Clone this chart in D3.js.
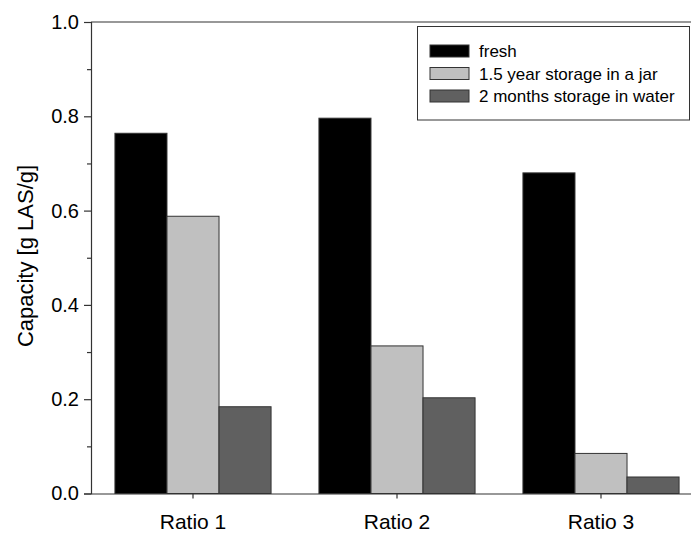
<!DOCTYPE html>
<html lang="en">
<head>
    <meta charset="utf-8">
    <title></title>
    <script src="https://d3js.org/d3.v7.min.js"></script>
    <style type="text/css">
        body{
            margin: 0;
            background: #fff;
        }
        svg{
            font-family: "Liberation Sans", Arial, sans-serif;
        }
    </style>
</head>
<body>
    <svg id="chart" width="691" height="535"></svg>

    <script type="text/javascript">

        const ratios = ['Ratio 1', 'Ratio 2', 'Ratio 3']
        const seriesNames = ['fresh', '1.5 year storage in a jar', '2 months storage in water']
        const fresh = [0.764, 0.796, 0.680]
        const jar = [0.588, 0.313, 0.085]
        const water = [0.184, 0.203, 0.035]
        const yTicks = [0.0, 0.2, 0.4, 0.6, 0.8, 1.0]
        const yMinorTicks = [0.1, 0.3, 0.5, 0.7, 0.9]

        const colours = ['#000000', '#c0c0c0', '#606060']
        const seriesValues = [fresh, jar, water]

        const svg = d3.select("#chart");
        const plotLeft = 91, plotTop = 22, plotBottom = 493.5, plotRight = 703;

        const x = d3.scaleBand()
            .domain(ratios)
            .range([plotLeft, plotRight]);

        const xInner = d3.scaleBand()
            .domain(seriesNames)
            .range([0, x.bandwidth()])
            .paddingOuter(0.46);

        const y = d3.scaleLinear()
            .domain([0, 1])
            .range([plotBottom, plotTop]);

        // bars
        const groups = svg.selectAll("g.group")
            .data(ratios)
            .enter()
            .append("g")
            .attr("class", "group")
            .attr("transform", d => `translate(${x(d)},0)`);

        groups.selectAll("rect")
            .data((d, i) => seriesNames.map((s, j) => ({s: s, v: seriesValues[j][i], c: colours[j]})))
            .enter()
            .append("rect")
            .attr("x", d => xInner(d.s))
            .attr("y", d => y(d.v))
            .attr("width", xInner.bandwidth())
            .attr("height", d => y(0) - y(d.v))
            .style("fill", d => d.c)
            .style("stroke", "#333")
            .style("stroke-width", 1);

        // frame top line
        svg.append("line")
            .attr("x1", plotLeft).attr("x2", plotRight)
            .attr("y1", plotTop).attr("y2", plotTop)
            .style("stroke", "#333").style("stroke-width", 1.2);

        // y axis
        const yAxis = svg.append("g")
            .attr("transform", `translate(${plotLeft},0)`)
            .call(d3.axisLeft(y).tickValues(yTicks).tickFormat(d3.format(".1f")).tickSize(7).tickPadding(5));

        svg.append("g")
            .attr("transform", `translate(${plotLeft},0)`)
            .call(d3.axisLeft(y).tickValues(yMinorTicks).tickFormat("").tickSize(4))
            .select(".domain").remove();

        // x axis
        const xAxis = svg.append("g")
            .attr("transform", `translate(0,${plotBottom})`)
            .call(d3.axisBottom(x).tickSize(5).tickSizeOuter(0).tickPadding(16));

        svg.selectAll(".domain, .tick line")
            .style("stroke", "#333")
            .style("stroke-width", 1.2);

        yAxis.selectAll("text")
            .style("font-size", "20px")
            .style("font-family", "'Liberation Sans', Arial, sans-serif")
            .style("fill", "#000");

        xAxis.selectAll("text")
            .style("font-size", "21px")
            .style("font-family", "'Liberation Sans', Arial, sans-serif")
            .style("fill", "#000");

        // y label
        svg.append("text")
            .attr("transform", `translate(33,256) rotate(-90)`)
            .attr("text-anchor", "middle")
            .style("font-size", "22px")
            .text("Capacity [g LAS/g]");

        // legend
        const legend = svg.append("g");
        legend.append("rect")
            .attr("x", 417.5).attr("y", 26.5)
            .attr("width", 272).attr("height", 93.5)
            .style("fill", "#fff")
            .style("stroke", "#333")
            .style("stroke-width", 1);

        const items = legend.selectAll("g.item")
            .data(seriesNames)
            .enter()
            .append("g")
            .attr("class", "item")
            .attr("transform", (d, i) => `translate(430,${51 + i * 22.5})`);

        items.append("rect")
            .attr("x", 0).attr("y", -6)
            .attr("width", 39).attr("height", 12)
            .style("fill", (d, i) => colours[i])
            .style("stroke", "#333")
            .style("stroke-width", 1);

        items.append("text")
            .attr("x", 49)
            .attr("y", 6)
            .style("font-size", "17px")
            .text(d => d);
    </script>
</body>
</html>
